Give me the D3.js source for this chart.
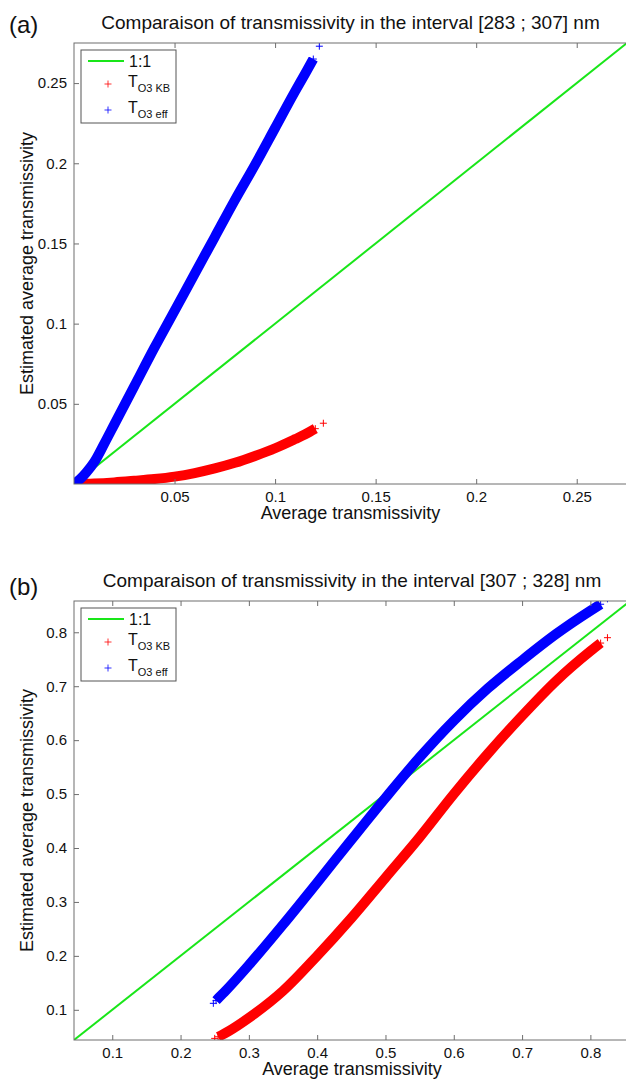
<!DOCTYPE html>
<html>
<head>
<meta charset="utf-8">
<script src="https://cdn.jsdelivr.net/npm/d3@7"></script>
<style>
  body { margin: 0; background: #fff; }
  svg text { font-family: "Liberation Sans", Arial, sans-serif; fill: #111; }
</style>
</head>
<body>
<svg id="chart" width="626" height="1080"></svg>
<script>
// ---- panel (a) data : interval [283 ; 307] nm
const aTitle = "Comparaison of transmissivity in the interval [283 ; 307] nm";
const aTicks = [0.05, 0.1, 0.15, 0.2, 0.25];
const aTickLabels = ["0.05", "0.1", "0.15", "0.2", "0.25"];
const aOneToOne = [0, 0.275];
const aKbX = [0, 0.01, 0.02, 0.03, 0.04, 0.05, 0.06, 0.07, 0.08, 0.09, 0.1, 0.11, 0.115, 0.12, 0.124];
const aKbY = [0, 0.0003, 0.001, 0.002, 0.0031, 0.0046, 0.0068, 0.0097, 0.0132, 0.0175, 0.0223, 0.028, 0.031, 0.0345, 0.0379];
const aEffX = [0, 0.003, 0.006, 0.01, 0.015, 0.02, 0.03, 0.04, 0.05, 0.06, 0.07, 0.08, 0.09, 0.1, 0.11, 0.115, 0.119, 0.122];
const aEffY = [0, 0.003, 0.007, 0.0135, 0.025, 0.037, 0.061, 0.085, 0.108, 0.131, 0.154, 0.177, 0.199, 0.222, 0.245, 0.256, 0.265, 0.273];

// ---- panel (b) data : interval [307 ; 328] nm
const bTitle = "Comparaison of transmissivity in the interval [307 ; 328] nm";
const bTicks = [0.1, 0.2, 0.3, 0.4, 0.5, 0.6, 0.7, 0.8];
const bTickLabels = ["0.1", "0.2", "0.3", "0.4", "0.5", "0.6", "0.7", "0.8"];
const bOneToOne = [0.044, 0.858];
const bKbX = [0.25, 0.255, 0.26, 0.27, 0.3, 0.35, 0.4, 0.45, 0.5, 0.55, 0.6, 0.65, 0.7, 0.75, 0.8, 0.815, 0.825];
const bKbY = [0.047, 0.05, 0.053, 0.06, 0.085, 0.135, 0.2, 0.27, 0.345, 0.42, 0.5, 0.575, 0.645, 0.71, 0.765, 0.78, 0.79];
const bEffX = [0.248, 0.252, 0.258, 0.265, 0.3, 0.35, 0.4, 0.45, 0.5, 0.55, 0.6, 0.65, 0.7, 0.75, 0.8, 0.815, 0.825];
const bEffY = [0.112, 0.117, 0.125, 0.134, 0.183, 0.258, 0.336, 0.415, 0.493, 0.568, 0.636, 0.696, 0.748, 0.797, 0.84, 0.852, 0.862];

const svg = d3.select("#chart");
const GREEN = "#19e619", RED = "#ff0000", BLUE = "#0000ff", AXIS = "#6e6e6e";
const plus = "M-3.5,0H3.5M0,-3.5V3.5";

function drawPanel(p) {
    const x = d3.scaleLinear().domain(p.domain).range([p.left, p.right]);
    const y = d3.scaleLinear().domain(p.domain).range([p.bottom, p.top]);
    const g = svg.append("g");

    // panel letter + title
    g.append("text").attr("x", 9).attr("y", p.letterY)
        .style("font-size", "24px").text(p.letter);
    g.append("text").attr("x", (p.left + p.right) / 2).attr("y", p.top - 14)
        .attr("text-anchor", "middle").style("font-size", "19px").text(p.title);

    // clip to plot area
    g.append("clipPath").attr("id", "clip-" + p.id)
        .append("rect").attr("x", p.left).attr("y", p.top)
        .attr("width", p.right - p.left).attr("height", p.bottom - p.top);
    const plot = g.append("g").attr("clip-path", `url(#clip-${p.id})`);

    // 1:1 line
    plot.append("line")
        .attr("x1", x(p.oneToOne[0])).attr("y1", y(p.oneToOne[0]))
        .attr("x2", x(p.oneToOne[1])).attr("y2", y(p.oneToOne[1]))
        .attr("stroke", GREEN).attr("stroke-width", 2);

    // series: dense "+" clouds drawn as a thick band with markers on top
    const series = [
        {xs: p.kbX, ys: p.kbY, color: RED},
        {xs: p.effX, ys: p.effY, color: BLUE}
    ];
    series.forEach(s => {
        const pts = s.xs.map((v, i) => [v, s.ys[i]]);
        const line = d3.line().x(d => x(d[0])).y(d => y(d[1])).curve(d3.curveMonotoneX);
        plot.append("path").datum(pts.slice(p.bandFrom, -1)).attr("d", line)
            .attr("fill", "none").attr("stroke", s.color).attr("stroke-width", p.band);
        plot.selectAll(null).data(pts).enter().append("path")
            .attr("transform", d => `translate(${x(d[0])},${y(d[1])})`)
            .attr("d", plus).attr("fill", "none")
            .attr("stroke", s.color).attr("stroke-width", 1);
    });

    // axes, ticks pointing inward
    const bottomAxis = d3.axisBottom(x).tickValues(p.ticks)
        .tickFormat((d, i) => p.tickLabels[i]).tickSize(-5).tickPadding(7);
    const leftAxis = d3.axisLeft(y).tickValues(p.ticks)
        .tickFormat((d, i) => p.tickLabels[i]).tickSize(-5).tickPadding(7);
    const topAxis = d3.axisTop(x).tickValues(p.ticks).tickFormat("").tickSize(-5);

    [[bottomAxis, `translate(0,${p.bottom})`], [leftAxis, `translate(${p.left},0)`],
     [topAxis, `translate(0,${p.top})`]].forEach(([ax, tr]) => {
        const a = g.append("g").attr("transform", tr).call(ax);
        a.select(".domain").remove();
        a.selectAll("line").attr("stroke", AXIS);
        a.selectAll("text").style("font-size", "15px").attr("fill", "#111");
    });
    g.append("rect").attr("x", p.left).attr("y", p.top)
        .attr("width", p.right - p.left).attr("height", p.bottom - p.top)
        .attr("fill", "none").attr("stroke", AXIS).attr("stroke-width", 1);

    // axis labels
    g.append("text").attr("x", (p.left + p.right) / 2).attr("y", p.bottom + 35)
        .attr("text-anchor", "middle").style("font-size", "18px").text("Average transmissivity");
    g.append("text")
        .attr("transform", `translate(33,${(p.top + p.bottom) / 2}) rotate(-90)`)
        .attr("text-anchor", "middle").style("font-size", "18px").text("Estimated average transmissivity");

    // legend
    const lg = g.append("g").attr("transform", `translate(${p.left + 7},${p.top + 7})`);
    lg.append("rect").attr("width", 95).attr("height", 73)
        .attr("fill", "#fff").attr("stroke", "#555").attr("stroke-width", 1);
    lg.append("line").attr("x1", 7).attr("x2", 43).attr("y1", 11).attr("y2", 11)
        .attr("stroke", GREEN).attr("stroke-width", 2);
    lg.append("text").attr("x", 48).attr("y", 17).style("font-size", "16px").text("1:1");
    const entries = [{c: RED, sub: "O3 KB"}, {c: BLUE, sub: "O3 eff"}];
    entries.forEach((e, i) => {
        const cy = 34 + i * 26;
        lg.append("path").attr("transform", `translate(27,${cy})`).attr("d", plus)
            .attr("fill", "none").attr("stroke", e.c).attr("stroke-width", 0.8);
        const t = lg.append("text").attr("x", 47).attr("y", cy + 3).style("font-size", "16px");
        t.append("tspan").text("T");
        t.append("tspan").attr("dy", 5).style("font-size", "11px").text(e.sub);
    });
}

drawPanel({id: "a", letter: "(a)", letterY: 33, title: aTitle, left: 74, right: 627, top: 43, bottom: 484,
    domain: [0, 0.275], ticks: aTicks, tickLabels: aTickLabels, oneToOne: aOneToOne,
    kbX: aKbX, kbY: aKbY, effX: aEffX, effY: aEffY, band: 10, bandFrom: 0});
drawPanel({id: "b", letter: "(b)", letterY: 595, title: bTitle, left: 74, right: 630, top: 601, bottom: 1040,
    domain: [0.044, 0.858], ticks: bTicks, tickLabels: bTickLabels, oneToOne: bOneToOne,
    kbX: bKbX, kbY: bKbY, effX: bEffX, effY: bEffY, band: 10, bandFrom: 1});
</script>
</body>
</html>
